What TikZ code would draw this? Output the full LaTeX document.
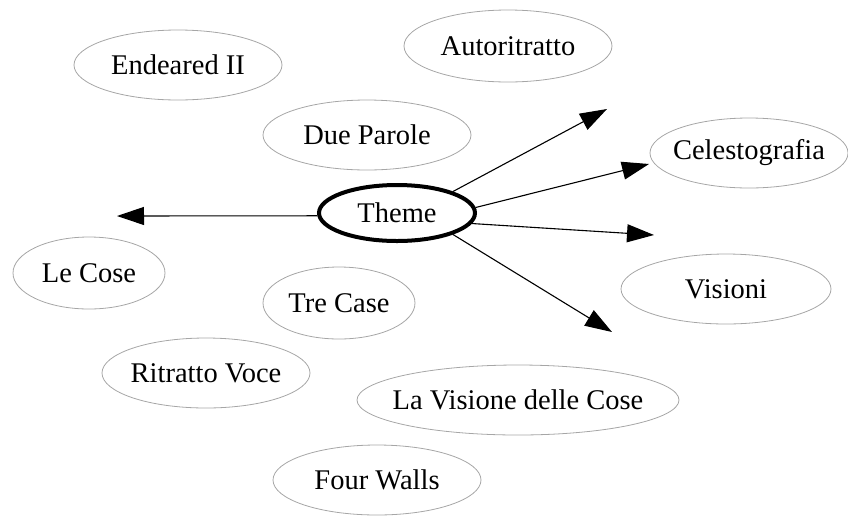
\documentclass[tikz,border=0pt]{standalone}
\usepackage{fontspec}
\setmainfont{Liberation Serif}
\usetikzlibrary{shapes.geometric,arrows.meta}
\newcommand{\lbl}[1]{\makebox[0pt]{#1}}
\tikzset{
  bubble/.style={ellipse, draw=black!35, line width=0.8pt, inner sep=0pt,
    font=\fontsize{28.5}{32}\selectfont, text=black},
  themebox/.style={ellipse, draw=black, line width=4pt, inner sep=0pt,
    minimum width=156pt, minimum height=56pt,
    font=\fontsize{28.5}{32}\selectfont},
  link/.style={line width=1.1pt, -{Triangle[length=27pt,width=18pt]}}
}
\begin{document}
\begin{tikzpicture}[x=1pt,y=-1pt]
\useasboundingbox (0,0) rectangle (848,515);
\node[bubble, minimum width=208pt, minimum height=70pt] (endeared) at (178,65) {\lbl{Endeared II}};
\node[bubble, minimum width=208pt, minimum height=70pt] (due) at (367,135) {\lbl{Due Parole}};
\node[bubble, minimum width=208pt, minimum height=72pt] (auto) at (508,46) {\lbl{Autoritratto}};
\node[bubble, minimum width=198pt, minimum height=70pt] (celesto) at (749,153) {\lbl{Celestografia}};
\node[bubble, minimum width=210pt, minimum height=70pt] (visioni) at (726,289) {\lbl{Visioni}};
\node[bubble, minimum width=322pt, minimum height=70pt] (lavisione) at (518,400) {\lbl{La Visione delle Cose}};
\node[bubble, minimum width=208pt, minimum height=70pt] (four) at (377,480) {\lbl{Four Walls}};
\node[bubble, minimum width=208pt, minimum height=70pt] (ritratto) at (206,373) {\lbl{Ritratto Voce}};
\node[bubble, minimum width=152pt, minimum height=72pt] (tre) at (339,303) {\lbl{Tre Case}};
\node[bubble, minimum width=152pt, minimum height=72pt] (lecose) at (89,273) {\lbl{Le Cose}};
\node[themebox] (theme) at (397,213) {\lbl{Theme}};
\coordinate (tipL) at (117,216);
\coordinate (tipA) at (607,109);
\coordinate (tipB) at (649,164);
\coordinate (tipC) at (654,235);
\coordinate (tipD) at (612,332);
\draw[link] (theme.182) -- (tipL);
\draw[link] (theme.21) -- (tipA);
\draw[link] (theme.4) -- (tipB);
\draw[link] (theme.-8) -- (tipC);
\draw[link] (theme.-21) -- (tipD);
\end{tikzpicture}
\end{document}
